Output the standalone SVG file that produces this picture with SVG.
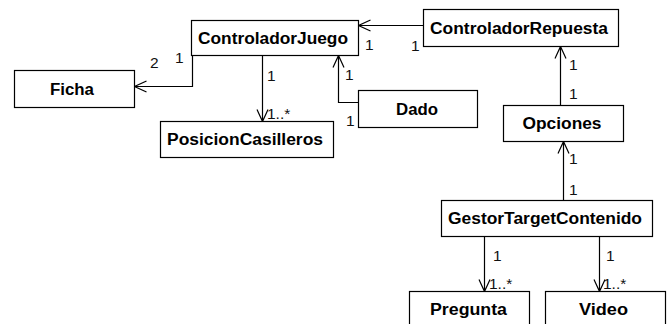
<svg xmlns="http://www.w3.org/2000/svg" width="670" height="324" viewBox="0 0 670 324">
<style>
.box{fill:#fff;stroke:#000;stroke-width:1.2}
.name{font-family:"Liberation Sans",Arial,sans-serif;font-weight:bold;font-size:16px;text-anchor:middle;fill:#000}
.lbl{font-family:"Liberation Sans",Arial,sans-serif;font-size:15.5px;fill:#111}
.ln{fill:none;stroke:#000;stroke-width:1.2}
</style>
<rect width="670" height="324" fill="#fff"/>
<g id="connectors">
<path class="ln" d="M192.5,55.5 V86.5 H134.5 M146.5,81 L134.5,86.5 L146.5,92"/>
<path class="ln" d="M262.5,55.5 V121.5 M257,109.5 L262.5,121.5 L268,109.5"/>
<path class="ln" d="M423.5,25.5 H358.5 M370.5,20 L358.5,25.5 L370.5,31"/>
<path class="ln" d="M358.5,102.5 H338.5 V55.5 M333,67.5 L338.5,55.5 L344,67.5"/>
<path class="ln" d="M560.5,105.5 V46.5 M555,58.5 L560.5,46.5 L566,58.5"/>
<path class="ln" d="M563.5,200.5 V141.5 M558,153.5 L563.5,141.5 L569,153.5"/>
<path class="ln" d="M484.5,236.5 V291.5 M479,279.5 L484.5,291.5 L490,279.5"/>
<path class="ln" d="M599.5,236.5 V291.5 M594,279.5 L599.5,291.5 L605,279.5"/>
<text class="lbl" x="150" y="68">2</text>
<text class="lbl" x="175" y="63">1</text>
<text class="lbl" x="267" y="81">1</text>
<text class="lbl" x="267" y="119">1..*</text>
<text class="lbl" x="365" y="50">1</text>
<text class="lbl" x="411" y="51">1</text>
<text class="lbl" x="345" y="80">1</text>
<text class="lbl" x="346" y="126">1</text>
<text class="lbl" x="569" y="70">1</text>
<text class="lbl" x="569" y="99">1</text>
<text class="lbl" x="569" y="164">1</text>
<text class="lbl" x="569" y="195">1</text>
<text class="lbl" x="493" y="261">1</text>
<text class="lbl" x="489" y="289">1..*</text>
<text class="lbl" x="606" y="261">1</text>
<text class="lbl" x="603" y="289">1..*</text>
</g>
<g id="ControladorJuego"><rect class="box" x="191.5" y="20.5" width="167" height="35"/><text class="name" x="273" y="43.5" textLength="150" lengthAdjust="spacingAndGlyphs">ControladorJuego</text></g>
<g id="Ficha"><rect class="box" x="14.5" y="70.5" width="120" height="37"/><text class="name" x="72" y="94.5" textLength="44" lengthAdjust="spacingAndGlyphs">Ficha</text></g>
<g id="PosicionCasilleros"><rect class="box" x="160.5" y="121.5" width="173" height="36"/><text class="name" x="245" y="145" textLength="156" lengthAdjust="spacingAndGlyphs">PosicionCasilleros</text></g>
<g id="ControladorRepuesta"><rect class="box" x="423.5" y="9.5" width="195" height="37"/><text class="name" x="519" y="33.5" textLength="178" lengthAdjust="spacingAndGlyphs">ControladorRepuesta</text></g>
<g id="Dado"><rect class="box" x="358.5" y="90.5" width="119" height="37"/><text class="name" x="417" y="114.5" textLength="42" lengthAdjust="spacingAndGlyphs">Dado</text></g>
<g id="Opciones"><rect class="box" x="503.5" y="105.5" width="120" height="36"/><text class="name" x="562" y="129" textLength="79" lengthAdjust="spacingAndGlyphs">Opciones</text></g>
<g id="GestorTargetContenido"><rect class="box" x="441.5" y="200.5" width="211" height="36"/><text class="name" x="545" y="224" textLength="194" lengthAdjust="spacingAndGlyphs">GestorTargetContenido</text></g>
<g id="Pregunta"><rect class="box" x="409.5" y="291.5" width="120" height="40"/><text class="name" x="468.5" y="314.5" textLength="77" lengthAdjust="spacingAndGlyphs">Pregunta</text></g>
<g id="Video"><rect class="box" x="545.5" y="291.5" width="120" height="40"/><text class="name" x="603.5" y="314.5" textLength="49" lengthAdjust="spacingAndGlyphs">Video</text></g>
</svg>
